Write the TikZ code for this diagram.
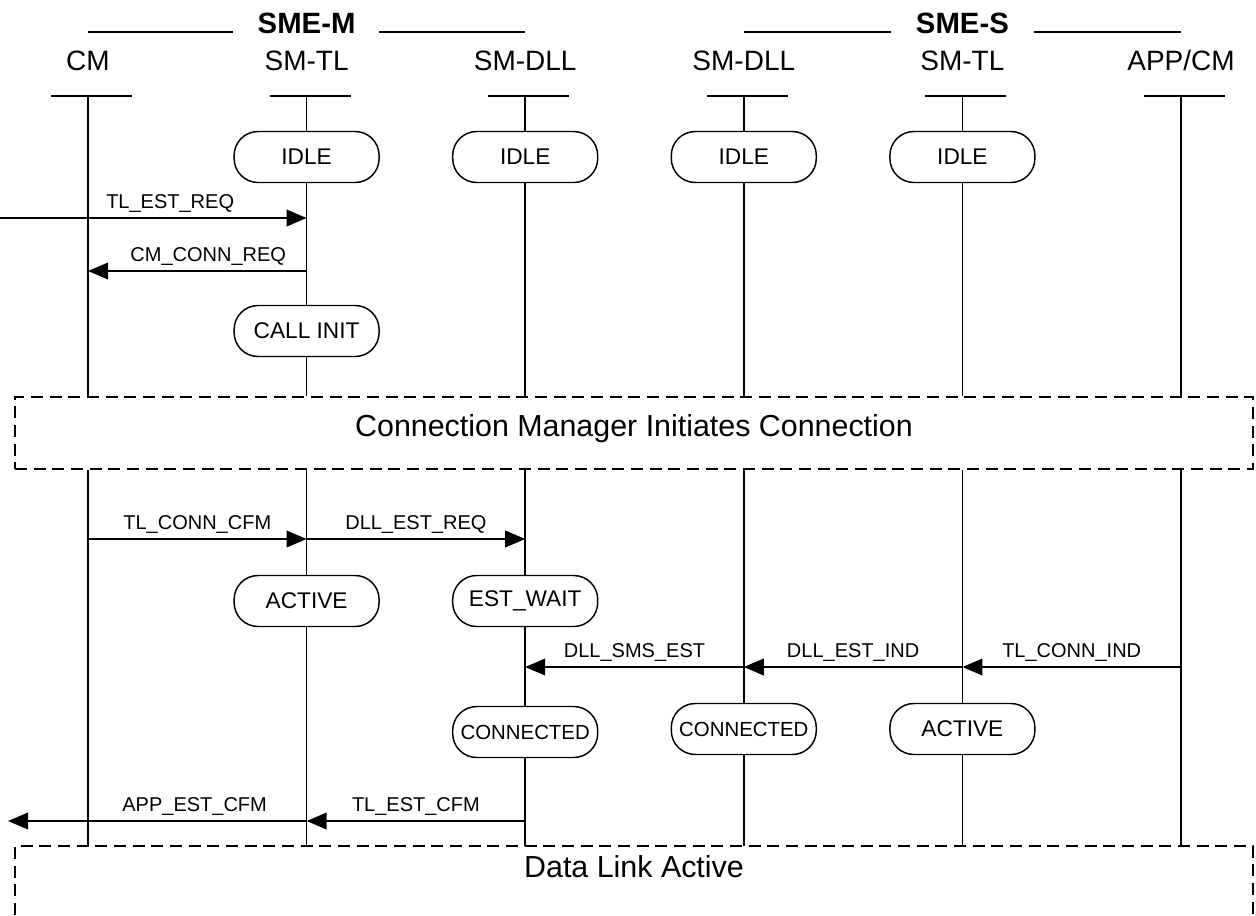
\documentclass[tikz,border=0pt]{standalone}
\usepackage{fontspec}
\setmainfont{Liberation Sans}
\usetikzlibrary{arrows.meta, positioning, calc}

\begin{document}
\begin{tikzpicture}[
    x=0.75pt, y=-0.75pt,
    line width=1.1pt,
    % Define specific node styles
    group_node/.style={font=\fontsize{22}{26}\selectfont\bfseries, inner sep=0pt, anchor=base},
    head_node/.style={font=\fontsize{21}{25}\selectfont, inner sep=0pt, anchor=base},
    state_node/.style={rectangle, rounded corners=18pt, draw=black, fill=white, minimum width=108.75pt, minimum height=38.25pt, inner sep=1pt, font=\fontsize{17}{20}\selectfont},
    narrow_text/.style={font=\fontsize{15.3}{18}\selectfont},
    phase_node/.style={font=\fontsize{22.8}{27}\selectfont, inner sep=0pt},
    msg_label/.style={font=\fontsize{15}{18}\selectfont, inner sep=0pt, anchor=base, yshift=7.5pt},
    life_line/.style={draw=black, line width=1.1pt},
    phase_line/.style={draw=black, line width=1.1pt, dash pattern=on 9pt off 5pt},
    arrow/.style={-{Triangle[length=15pt, width=12.5pt]}, line width=1.1pt, draw=black},
]
\useasboundingbox (0,0) rectangle (1256,915);

% Lifeline tops
\coordinate (cm) at (88,96);
\coordinate (tlm) at (306.6,96);
\coordinate (dllm) at (525.2,96);
\coordinate (dlls) at (743.8,96);
\coordinate (tls) at (962.4,96);
\coordinate (app) at (1181,96);

% Entity groups
\node[group_node] (sme_m) at (tlm |- 0,33) {SME-M};
\node[group_node] (sme_s) at (tls |- 0,33) {SME-S};
\draw (cm |- 0,32) -- ([xshift=-18pt]sme_m.base west |- 0,32);
\draw ([xshift=17pt]sme_m.base east |- 0,32) -- (dllm |- 0,32);
\draw (dlls |- 0,32) -- ([xshift=-18pt]sme_s.base west |- 0,32);
\draw ([xshift=18pt]sme_s.base east |- 0,32) -- (app |- 0,32);

% Lifeline heads
\node[head_node] (cm_head) at (cm |- 0,70) {CM};
\node[head_node] (tlm_head) at (tlm |- 0,70) {SM-TL};
\node[head_node] (dllm_head) at (dllm |- 0,70) {SM-DLL};
\node[head_node] (dlls_head) at (dlls |- 0,70) {SM-DLL};
\node[head_node] (tls_head) at (tls |- 0,70) {SM-TL};
\node[head_node] (app_head) at (app |- 0,70) {APP/CM};
\draw ($(cm)+(-37,0)$) -- ($(cm)+(44,0)$);
\draw ($(tlm)+(-37,0)$) -- ($(tlm)+(44,0)$);
\draw ($(dllm)+(-37,0)$) -- ($(dllm)+(44,0)$);
\draw ($(dlls)+(-37,0)$) -- ($(dlls)+(44,0)$);
\draw ($(tls)+(-37,0)$) -- ($(tls)+(44,0)$);
\draw ($(app)+(-37,0)$) -- ($(app)+(44,0)$);

% Phase boxes
\node[phase_node, draw, phase_line, minimum width=928.5pt, minimum height=54pt, text depth=11pt] (conn) at (634,433) {Connection Manager Initiates Connection};
\coordinate (dla_nw) at (15,846);
\coordinate (dla_ne) at (1253,846);
\draw[phase_line] (dla_nw |- 0,915) -- (dla_nw) -- (dla_ne) -- (dla_ne |- 0,915);
\node[phase_node] (dla) at (634,867) {Data Link Active};

% Lifelines
\draw[life_line] (cm) -- (cm |- conn.north) (cm |- conn.south) -- (cm |- dla_nw);
\draw[life_line] (tlm) -- (tlm |- conn.north) (tlm |- conn.south) -- (tlm |- dla_nw);
\draw[life_line] (dllm) -- (dllm |- conn.north) (dllm |- conn.south) -- (dllm |- dla_nw);
\draw[life_line] (dlls) -- (dlls |- conn.north) (dlls |- conn.south) -- (dlls |- dla_nw);
\draw[life_line] (tls) -- (tls |- conn.north) (tls |- conn.south) -- (tls |- dla_nw);
\draw[life_line] (app) -- (app |- conn.north) (app |- conn.south) -- (app |- dla_nw);

% States
\node[state_node] (idle_tlm) at (tlm |- 0,157) {IDLE};
\node[state_node] (idle_dllm) at (dllm |- 0,157) {IDLE};
\node[state_node] (idle_dlls) at (dlls |- 0,157) {IDLE};
\node[state_node] (idle_tls) at (tls |- 0,157) {IDLE};
\node[state_node] (init_tlm) at (tlm |- 0,331) {CALL INIT};
\node[state_node] (active_tlm) at (tlm |- 0,601) {ACTIVE};
\node[state_node] (wait_dllm) at (dllm |- 0,601) {EST\_WAIT};
\node[state_node, narrow_text] (conn_dllm) at (dllm |- 0,732) {CONNECTED};
\node[state_node, narrow_text] (conn_dlls) at (dlls |- 0,729) {CONNECTED};
\node[state_node] (active_tls) at (tls |- 0,729) {ACTIVE};

% Messages
\coordinate (ext_in) at (0,218);
\coordinate (ext_out) at (8,821);
\draw[arrow] (ext_in) -- node[msg_label, pos=0.555] {TL\_EST\_REQ} (tlm |- ext_in);
\draw[arrow] (tlm |- 0,271) -- node[msg_label, pos=0.45] {CM\_CONN\_REQ} (cm |- 0,271);

\draw[arrow] (cm |- 0,539) -- node[msg_label] {TL\_CONN\_CFM} (tlm |- 0,539);
\draw[arrow] (tlm |- 0,539) -- node[msg_label] {DLL\_EST\_REQ} (dllm |- 0,539);
\draw[arrow] (dlls |- 0,667) -- node[msg_label] {DLL\_SMS\_EST} (dllm |- 0,667);
\draw[arrow] (tls |- 0,667) -- node[msg_label] {DLL\_EST\_IND} (dlls |- 0,667);
\draw[arrow] (app |- 0,667) -- node[msg_label] {TL\_CONN\_IND} (tls |- 0,667);
\draw[arrow] (dllm |- 0,821) -- node[msg_label] {TL\_EST\_CFM} (tlm |- 0,821);
\draw[arrow] (tlm |- ext_out) -- node[msg_label, pos=0.375] {APP\_EST\_CFM} (ext_out);

\end{tikzpicture}
\end{document}
